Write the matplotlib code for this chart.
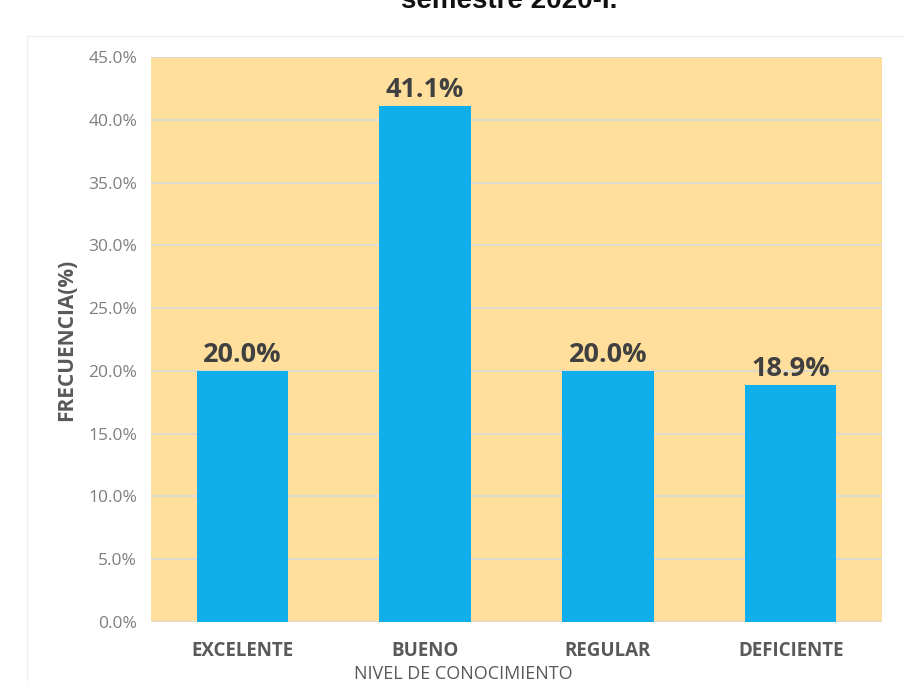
import matplotlib.pyplot as plt
from matplotlib.lines import Line2D
from matplotlib.ticker import FuncFormatter

categorias = ['EXCELENTE', 'BUENO', 'REGULAR', 'DEFICIENTE']
frecuencia = [20.0, 41.1, 20.0, 18.9]
yticks = [0, 5, 10, 15, 20, 25, 30, 35, 40, 45]

plt.rcParams['font.family'] = ['Open Sans', 'DejaVu Sans']

fig = plt.figure(figsize=(9.15, 6.92), dpi=100)
ax = fig.add_axes([0.165, 0.1012, 0.799, 0.8164])

ax.set_facecolor('#FFDF9B')
xs = range(len(categorias))
bars = ax.bar(xs, frecuencia, width=0.5, color='#10AEEA', zorder=3)

for x, v in zip(xs, frecuencia):
    ax.annotate(f'{v:.1f}%', (x, v), xytext=(0, 2), textcoords='offset points',
                ha='center', va='bottom', fontsize=19.5, fontweight='bold',
                color='#404040', zorder=4)

ax.set_xlim(-0.5, 3.5)
ax.set_ylim(0, 45)
ax.set_yticks(yticks)
ax.yaxis.set_major_formatter(FuncFormatter(lambda v, p: f'{v:.1f}%'))
ax.set_xticks(list(xs))
ax.set_xticklabels(categorias, fontsize=13.5, fontweight='bold', color='#595959')
ax.tick_params(axis='y', labelsize=12.5, labelcolor='#7f7f7f', length=0, pad=10)
ax.tick_params(axis='x', length=0, pad=14)
ax.grid(axis='y', color='#d9d9d9', linewidth=1.2, zorder=1)
for s in ax.spines.values():
    s.set_visible(False)

ax.set_ylabel('FRECUENCIA(%)', fontsize=15, fontweight='bold', color='#595959', labelpad=8)
fig.text(0.506, 0.026, 'NIVEL DE CONOCIMIENTO', ha='center', va='center',
         fontsize=13, color='#595959')

# title cut at the top of the image
fig.text(0.557, 1 - 8 / 692, 'semestre 2020-I.', ha='center', va='baseline',
         fontsize=20, fontweight='bold', color='#111111',
         family=['Liberation Sans', 'DejaVu Sans'])

# faint chart-area border
fig.add_artist(Line2D([0.03, 0.987], [0.948, 0.948], color='#eeeeee', lw=1))
fig.add_artist(Line2D([0.03, 0.03], [0.017, 0.948], color='#eeeeee', lw=1))

fig.savefig('out.png', dpi=100)
